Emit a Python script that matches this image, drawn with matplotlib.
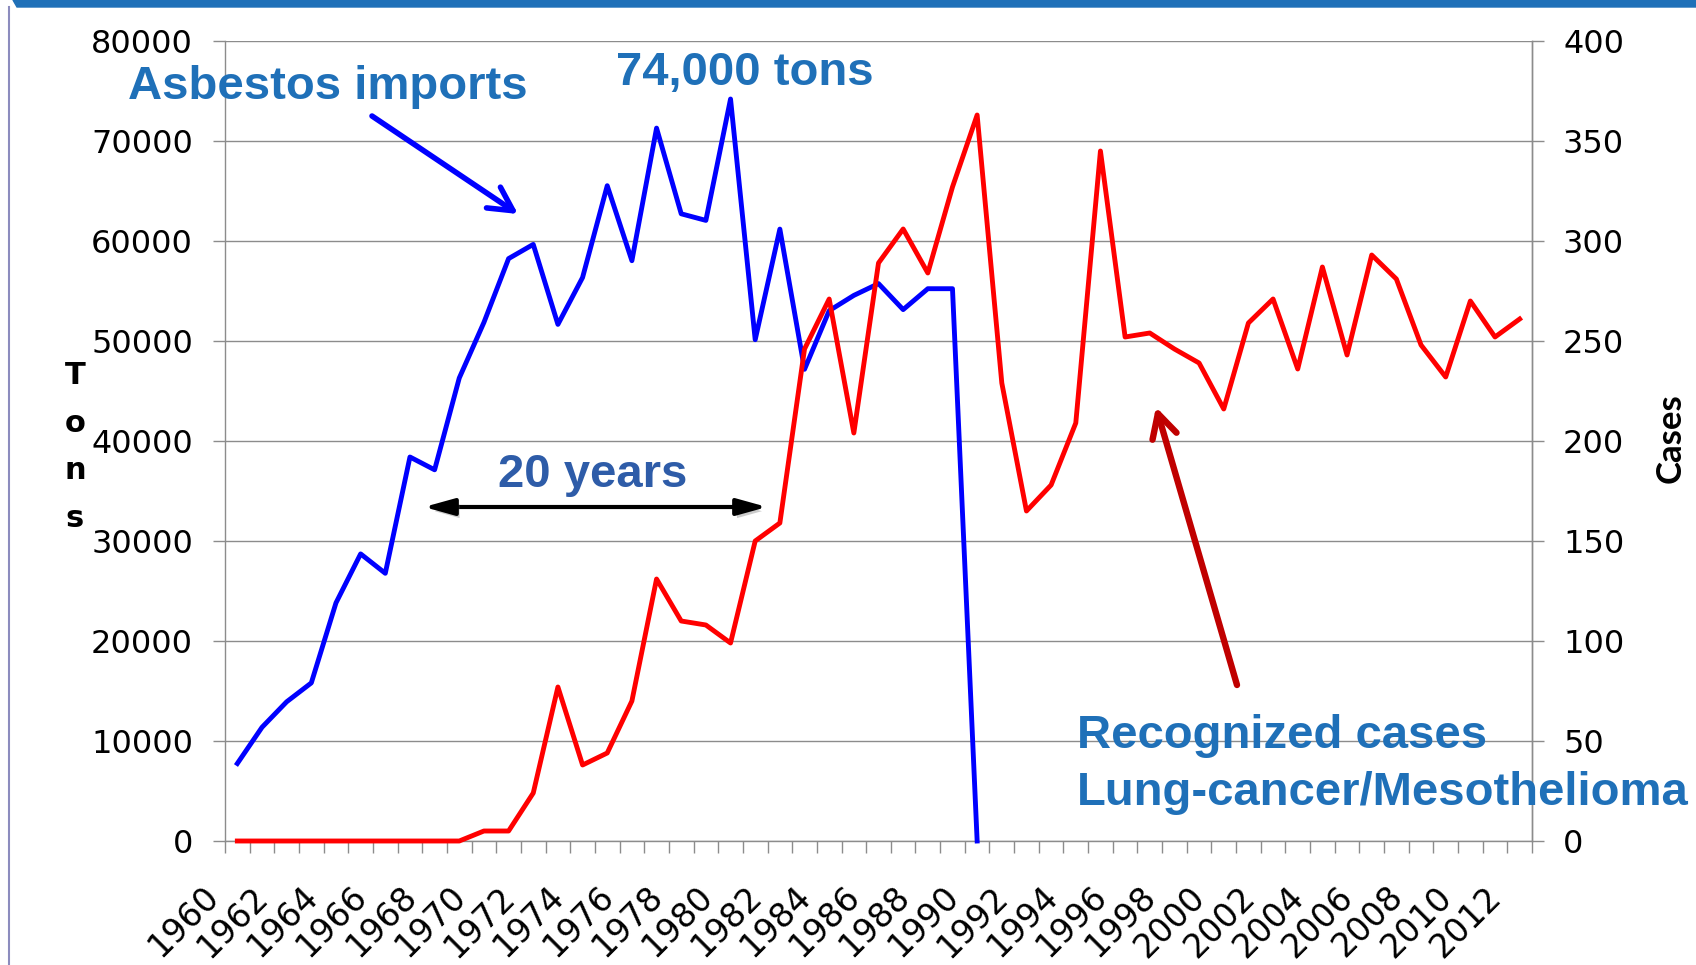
import matplotlib
matplotlib.use('Agg')
import matplotlib.pyplot as plt
from matplotlib.ticker import FixedLocator
import matplotlib.transforms as mtransforms
import matplotlib.patheffects as pe
from matplotlib.patches import Polygon
from matplotlib.lines import Line2D

# ---------------- data ----------------
years = list(range(1960, 2013))
import_years = list(range(1960, 1991))
imports_tons = [7750, 11370, 13920, 15810, 23810, 28710, 26770, 38400, 37120, 46300,
                51860, 58240, 59660, 51660, 56350, 65530, 58030, 71290, 62720, 62060,
                74200, 50130, 61190, 47170, 53030, 54560, 55740, 53140, 55230, 55230, 0]
cases = [0, 0, 0, 0, 0, 0, 0, 0, 0, 0,
         5, 5, 24, 77, 38, 44, 70, 131, 110, 108,
         99, 150, 159, 246, 271, 204, 289, 306, 284, 327,
         363, 229, 165, 178, 209, 345, 252, 254, 246, 239,
         216, 259, 271, 236, 287, 243, 293, 281, 248, 232,
         270, 252, 261]
left_ticks = list(range(0, 80001, 10000))
right_ticks = list(range(0, 401, 50))
label_years = list(range(1960, 2013, 2))

# ---------------- figure ----------------
W, H = 1696, 965
fig = plt.figure(figsize=(W / 100, H / 100), dpi=100)
ax = fig.add_axes([225 / W, 1 - 841 / H, (1532 - 225) / W, (841 - 41) / H])
ax2 = ax.twinx()

grey = '#8c8c8c'
ax.plot(import_years, imports_tons, color='#0000FF', lw=3.5, clip_on=False, zorder=3)
ax2.plot(years, cases, color='#FF0000', lw=3.5, clip_on=False, zorder=3)

ax.set_xlim(1959.5, 2012.5)
ax.set_ylim(0, 80000)
ax2.set_ylim(0, 400)
ax.set_yticks(left_ticks)
ax2.set_yticks(right_ticks)
ax.set_yticklabels([str(v) for v in left_ticks])
ax2.set_yticklabels([str(v) for v in right_ticks])

ax.grid(axis='y', color=grey, lw=1.0)
ax.set_axisbelow(True)

for a in (ax, ax2):
    a.spines['top'].set_visible(False)
    for s in ('left', 'right', 'bottom'):
        a.spines[s].set_color(grey)
        a.spines[s].set_linewidth(1.0)
ax2.spines['left'].set_visible(False)
ax2.spines['bottom'].set_visible(False)

ax.tick_params(axis='y', direction='out', length=12 * 0.72, width=1, color=grey,
               labelsize=23, pad=20 * 0.72)
ax2.tick_params(axis='y', direction='out', length=12 * 0.72, width=1, color=grey,
                labelsize=23, pad=19 * 0.72)

ax.set_xticks(label_years)
ax.set_xticklabels([str(y) for y in label_years], rotation=45, ha='right', va='top',
                   rotation_mode='anchor', fontsize=24)
ax.tick_params(axis='x', which='major', length=0, pad=39 * 0.72)
ax.xaxis.set_minor_locator(FixedLocator([y - 0.5 for y in range(1960, 2014)]))
ax.tick_params(axis='x', which='minor', direction='out', length=12 * 0.72, width=1, color=grey)
offset = mtransforms.ScaledTranslation(-35 / 100, 0, fig.dpi_scale_trans)
for lbl in ax.get_xticklabels():
    lbl.set_transform(lbl.get_transform() + offset)

ax.set_ylabel('T\no\nn\ns', rotation=0, fontweight='bold', fontsize=22,
              linespacing=1.8, ha='center', va='center')
ax.yaxis.set_label_coords((75 - 225) / 1307, 1 - (447 - 41) / 800)
ax2.set_ylabel('Cases', rotation=90, fontweight='bold', fontsize=25, family='Lato',
               ha='center', va='center')
ax2.yaxis.set_label_coords((1671 - 225) / 1307, 1 - (438 - 41) / 800)

# ---------------- annotations ----------------
blue_txt = '#1F70B8'
tkw = dict(fontsize=34, fontweight='bold', family='Liberation Sans', va='baseline', ha='left')
fig.text(128 / W, 1 - 99 / H, 'Asbestos imports', color=blue_txt, **tkw)
fig.text(616 / W, 1 - 85 / H, '74,000 tons', color=blue_txt, **tkw)
fig.text(498 / W, 1 - 487 / H, '20 years', color='#2E5CA8', **tkw)
fig.text(1077 / W, 1 - 748 / H, 'Recognized cases', color=blue_txt, **tkw)
fig.text(1077 / W, 1 - 805 / H, 'Lung-cancer/Mesothelioma', color=blue_txt, **tkw)

ax.annotate('', xy=(518, H - 214), xytext=(372, H - 116),
            xycoords='figure pixels', textcoords='figure pixels',
            arrowprops=dict(arrowstyle='->,head_length=17,head_width=9', mutation_scale=1,
                            lw=4.0, color='#0000FF', shrinkA=0, shrinkB=0))
ax.annotate('', xy=(1156, H - 407), xytext=(1237, H - 685),
            xycoords='figure pixels', textcoords='figure pixels',
            arrowprops=dict(arrowstyle='->,head_length=17,head_width=9', mutation_scale=1,
                            lw=4.6, color='#C00000', shrinkA=0, shrinkB=0))
ax.annotate('', xy=(767, H - 507), xytext=(424, H - 507),
            xycoords='figure pixels', textcoords='figure pixels',
            arrowprops=dict(arrowstyle='<|-|>,head_length=18,head_width=5', mutation_scale=1,
                            lw=3, color='black', shrinkA=0, shrinkB=0,
                            path_effects=[pe.SimplePatchShadow(offset=(2, -3), shadow_rgbFace='gray',
                                                               alpha=0.4), pe.Normal()]))

# ---------------- slide frame decoration ----------------
fig.add_artist(Line2D([9 / W, 9 / W], [0, 1 - 7 / H], color='#8C8CBE', lw=1.5,
                      transform=fig.transFigure))
fig.add_artist(Polygon([[13 / W, 1], [17 / W, 1 - 7 / H], [1, 1 - 7 / H], [1, 1]], closed=True,
                       transform=fig.transFigure, color='#1F70B8'))

fig.savefig('out.png', dpi=100)
